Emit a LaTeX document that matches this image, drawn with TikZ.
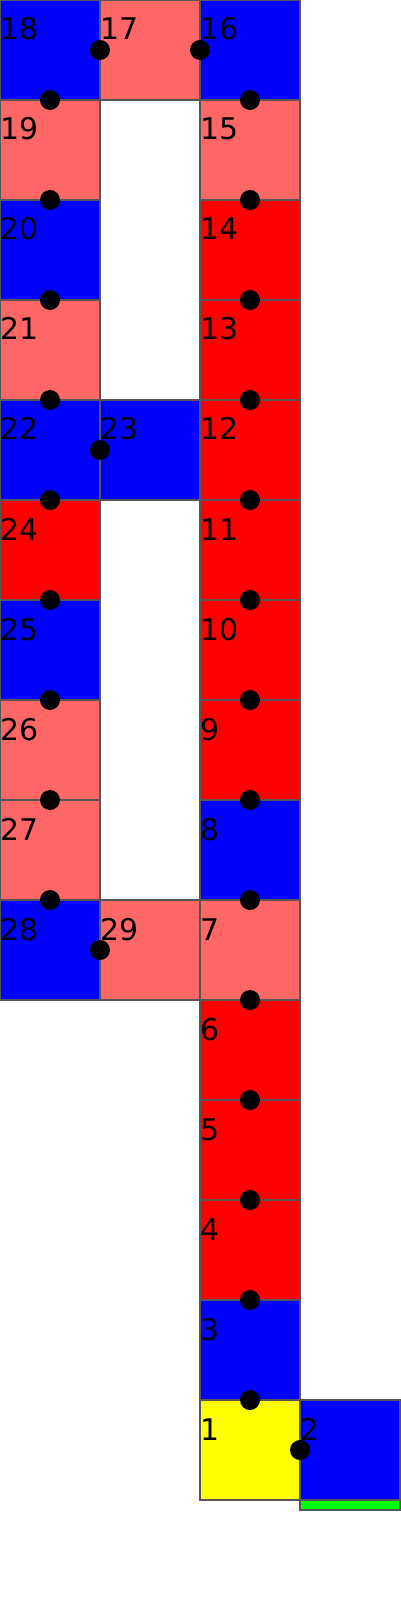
\documentclass[tikz,border=0pt]{standalone}
\usepackage{fontspec}
\setmainfont{DejaVu Sans}
\usetikzlibrary{calc}
\definecolor{bluec}{HTML}{0000FF}
\definecolor{pinkc}{HTML}{FF6666}
\definecolor{redc}{HTML}{FF0000}
\definecolor{yellowc}{HTML}{FFFF00}
\definecolor{greenc}{HTML}{00FF00}
\definecolor{edgec}{HTML}{555555}

\begin{document}
\begin{tikzpicture}[x=1cm,y=1cm]
  \useasboundingbox (0,0) rectangle (4,-16);
  \fill[white] (0,0) rectangle (4,-16);

  % ============================================================
  %                       PARAMETERS
  % ============================================================
  \def\cellSize{1}
  \def\dotRad{0.1}
  \def\labelDrop{0.4}   % baseline below cell top

  \tikzset{
    cell/.style={draw=edgec, line width=0.3pt, minimum size=\cellSize cm,
      inner sep=0pt, outer sep=0pt},
    cellnum/.style={anchor=base west, inner sep=0pt,
      font=\fontsize{8.5}{10}\selectfont},
    joint/.style={fill=black}
  }

  % ============================================================
  %                       CELLS  (number/col/row/colour)
  % ============================================================
  \foreach \n/\cx/\cy/\c in {18/0/0/bluec, 17/1/0/pinkc, 16/2/0/bluec,
      19/0/1/pinkc, 15/2/1/pinkc, 20/0/2/bluec, 14/2/2/redc,
      21/0/3/pinkc, 13/2/3/redc, 22/0/4/bluec, 23/1/4/bluec, 12/2/4/redc,
      24/0/5/redc, 11/2/5/redc, 25/0/6/bluec, 10/2/6/redc,
      26/0/7/pinkc, 9/2/7/redc, 27/0/8/pinkc, 8/2/8/bluec,
      28/0/9/bluec, 29/1/9/pinkc, 7/2/9/pinkc, 6/2/10/redc,
      5/2/11/redc, 4/2/12/redc, 3/2/13/bluec, 1/2/14/yellowc, 2/3/14/bluec} {
    \node[cell, fill=\c] (c\n) at (\cx+0.5, -\cy-0.5) {};
  }

  % green strip under cell 2
  \node[cell, fill=greenc, minimum height=0.1cm, anchor=north west] (base) at (c2.south west) {};

  % ============================================================
  %                       JOINTS
  % ============================================================
  \foreach \a in {3,...,22} {
    \pgfmathtruncatemacro{\b}{\a+1}
    \fill[joint] ($(c\a)!0.5!(c\b)$) circle (\dotRad cm);
  }
  \foreach \a/\b in {1/2, 1/3, 22/24, 24/25, 25/26, 26/27, 27/28, 28/29} {
    \fill[joint] ($(c\a)!0.5!(c\b)$) circle (\dotRad cm);
  }

  % ============================================================
  %                       NUMBERS
  % ============================================================
  \foreach \n in {1,...,29} {
    \node[cellnum] (l\n) at ($(c\n.north west)+(0,-\labelDrop)$) {\n};
  }

\end{tikzpicture}
\end{document}
